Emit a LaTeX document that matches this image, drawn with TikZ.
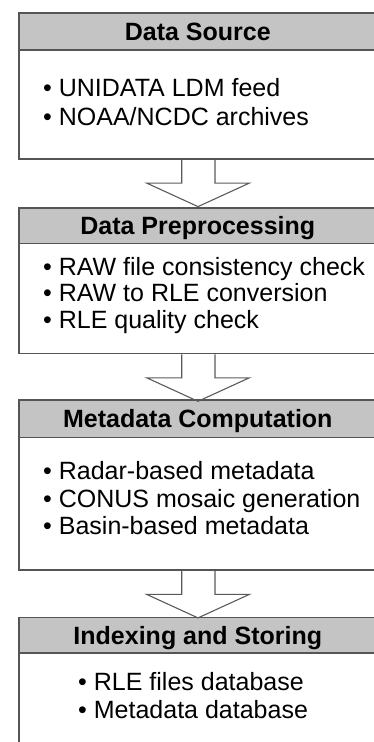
\documentclass[tikz,border=0pt]{standalone}
\usepackage{fontspec}
\setmainfont{Liberation Sans}
\usetikzlibrary{calc}
\definecolor{bordercol}{HTML}{555555}
\definecolor{hdrgray}{HTML}{C4C4C4}
\definecolor{arrowcol}{HTML}{5A5A5A}
\begin{document}
\begin{tikzpicture}[x=1pt,y=-1pt,
  hdr/.style={draw=bordercol,line width=1.6pt,fill=hdrgray,minimum width=358pt,anchor=north west,inner sep=0pt,
    font=\fontsize{25}{30}\selectfont\bfseries,text height=18pt,text depth=0pt},
  bodybox/.style={draw=bordercol,line width=1.6pt,fill=white,minimum width=358pt,anchor=north west,inner sep=0pt},
  item/.style={anchor=base west,inner sep=0pt,font=\fontsize{25}{30}\selectfont},
  blockarrow/.style={draw=arrowcol,line width=1.1pt,line join=miter}]
\useasboundingbox (0,0) rectangle (374,742);
\clip (0,0) rectangle (374,742);

% Box 1
\node[bodybox,minimum height=109pt] (bd1) at (18,49) {};
\node[hdr,minimum height=37pt] (h1) at (18,12) {Data Source};
\node[item] (i11) at (43,96.7) {\textbullet\ UNIDATA LDM feed};
\node[item] (i12) at (43,125) {\textbullet\ NOAA/NCDC archives};

% Box 2
\node[bodybox,minimum height=110pt] (bd2) at (18,242.7) {};
\node[hdr,minimum height=35.7pt] (h2) at (18,207) {Data Preprocessing};
\node[item] (i21) at (43,275.7) {\textbullet\ RAW file consistency check};
\node[item] (i22) at (43,301.7) {\textbullet\ RAW to RLE conversion};
\node[item] (i23) at (43,328.3) {\textbullet\ RLE quality check};

% Box 3
\node[bodybox,minimum height=132.6pt] (bd3) at (18,436.7) {};
\node[hdr,minimum height=37.4pt] (h3) at (18,399.3) {Metadata Computation};
\node[item] (i31) at (43,479.7) {\textbullet\ Radar-based metadata};
\node[item] (i32) at (43,507) {\textbullet\ CONUS mosaic generation};
\node[item] (i33) at (43,534.3) {\textbullet\ Basin-based metadata};

% Box 4
\node[bodybox,minimum height=150pt] (bd4) at (18,652.3) {};
\node[hdr,minimum height=35.6pt] (h4) at (18,616.7) {Indexing and Storing};
\node[item] (i41) at (78,690.3) {\textbullet\ RLE files database};
\node[item] (i42) at (78,718.7) {\textbullet\ Metadata database};

% Block arrows
\foreach \b in {1,2,3}{
  \draw[blockarrow] ($(bd\b.south west)+(163.7,0)$) -- ++(0,23.5) -- ++(-35,0)
    -- ++(51.3,23.5) -- ++(51.3,-23.5) -- ++(-34.3,0) -- ++(0,-23.5);
}
\end{tikzpicture}
\end{document}
